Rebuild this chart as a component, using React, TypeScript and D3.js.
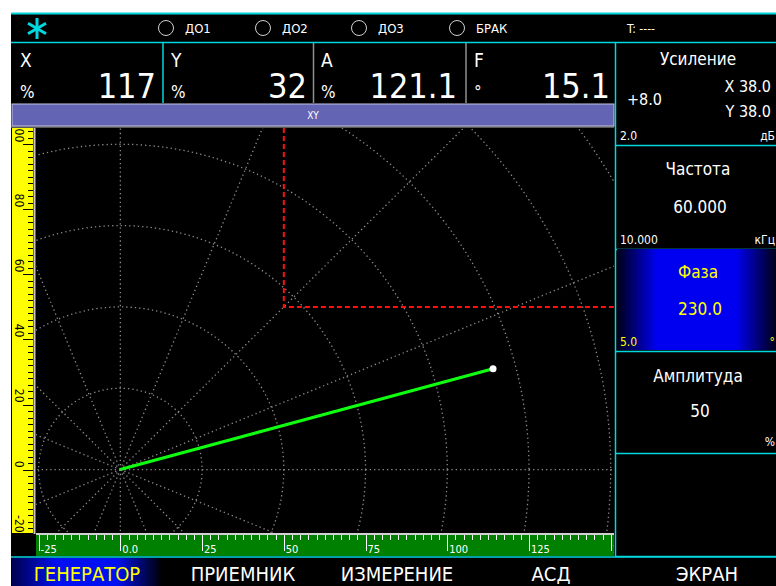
import React from "react";
import * as d3 from "d3";

// ---- data ----
const X_TICKS = [-25, 0, 25, 50, 75, 100, 125, 150];
const Y_TICKS = [-20, 0, 20, 40, 60, 80, 100];
const RING_RADII = [25, 50, 75, 100, 125, 150, 175, 200];
const SPOKE_ANGLES = [0, 22.5, 45, 67.5, 90, 112.5, 135, 157.5, 180, 202.5, 225, 247.5, 270, 292.5, 315, 337.5];
const SIGNAL_POINT = {x: 114, y: 31};
const ALARM_ZONE = {x0: 50, y0: 50};

const STATUS_FLAGS = ["ДО1", "ДО2", "ДО3", "БРАК"];
const READOUT_LABELS = ["X", "Y", "A", "F"];
const READOUT_UNITS = ["%", "%", "%", "°"];
const READOUT_VALUES = ["117", "32", "121.1", "15.1"];

const PANEL_TITLES = ["Усиление", "Частота", "Фаза", "Амплитуда", ""];
const PANEL_VALUES = ["+8.0", "60.000", "230.0", "50", ""];
const PANEL_STEPS = ["2.0", "10.000", "5.0", "", ""];
const PANEL_UNITS = ["дБ", "кГц", "°", "%", ""];
const SELECTED_PANEL = 2;

const MENU_ITEMS = ["ГЕНЕРАТОР", "ПРИЕМНИК", "ИЗМЕРЕНИЕ", "АСД", "ЭКРАН"];
const SELECTED_MENU = 0;

const FONT = "'DejaVu Sans Condensed', 'DejaVu Sans', sans-serif";
const CYAN = "#00d8e0";

const PLOT = {left: 36, right: 614, top: 128, bottom: 533};

function App(): JSX.Element {
    const width = 776;
    const height = 586;

    const x = d3.scaleLinear().domain([-25.8, 151]).range([PLOT.left, PLOT.right]);
    const y = d3.scaleLinear().domain([-19.5, 105]).range([PLOT.bottom, PLOT.top]);

    const minorX = d3.range(-25, 151, 2.5);
    const minorY = d3.range(-20, 105, 2);

    const cx = x(0);
    const cy = y(0);

    const readoutX = [12, 163, 313, 466];
    const readoutW = 151;
    const panelTops = [43, 147, 249, 351, 454];
    const titleOffsets = [22, 28, 29, 31, 0];
    const panelH = 102;
    const menuCenters = [87, 243, 397, 551, 707];

    return (
        <svg width={width} height={height} style={{position: "absolute", left: 0, top: 0, background: "#fff"}}
             fontFamily={FONT}>
            <defs>
                <linearGradient id="selH" x1="0" x2="1" y1="0" y2="0">
                    <stop offset="0" stopColor="#000018"/>
                    <stop offset="0.25" stopColor="#0000f0"/>
                    <stop offset="0.75" stopColor="#0000f0"/>
                    <stop offset="1" stopColor="#000018"/>
                </linearGradient>
                <linearGradient id="selMenu" x1="0" x2="1" y1="0" y2="0">
                    <stop offset="0" stopColor="#000050"/>
                    <stop offset="0.3" stopColor="#0010f0"/>
                    <stop offset="0.7" stopColor="#0010f0"/>
                    <stop offset="1" stopColor="#000000"/>
                </linearGradient>
                <clipPath id="plotClip">
                    <rect x={PLOT.left} y={PLOT.top} width={PLOT.right - PLOT.left} height={PLOT.bottom - PLOT.top}/>
                </clipPath>
                <clipPath id="rulerClip">
                    <rect x={12} y={PLOT.top} width={21} height={PLOT.bottom - PLOT.top}/>
                </clipPath>
                <clipPath id="xAxisClip">
                    <rect x={PLOT.left} y={535} width={PLOT.right - PLOT.left} height={22}/>
                </clipPath>
            </defs>

            {/* device background */}
            <rect x={11} y={13} width={width - 11} height={height - 13} fill="#000"/>

            {/* top status bar */}
            <line x1={11} x2={width} y1={13.5} y2={13.5} stroke={CYAN} strokeWidth={2}/>
            <line x1={11} x2={width} y1={42.5} y2={42.5} stroke={CYAN} strokeWidth={1.5}/>
            <g stroke={CYAN} strokeWidth={3} strokeLinecap="butt">
                <line x1={37} x2={37} y1={18} y2={39}/>
                <line x1={28} x2={46} y1={23.3} y2={33.7}/>
                <line x1={28} x2={46} y1={33.7} y2={23.3}/>
            </g>
            {STATUS_FLAGS.map((flag, i) => {
                const fx = [166, 263, 359, 457][i];
                return (
                    <g key={flag}>
                        <circle cx={fx} cy={28} r={7.5} fill="none" stroke="#d0d0d0" strokeWidth={1}/>
                        <text x={fx + 19} y={33} fill="#fff" fontSize={13}>{flag}</text>
                    </g>
                );
            })}
            <text x={627} y={33} fill="#fff" fontSize={12}>T: ----</text>

            {/* readouts */}
            {READOUT_LABELS.map((label, i) => (
                <g key={label}>
                    <text x={readoutX[i] + 8} y={67} fill="#fff" fontSize={19}>{label}</text>
                    <text x={readoutX[i] + 8} y={98} fill="#fff" fontSize={17}>{READOUT_UNITS[i]}</text>
                    <text x={readoutX[i] + readoutW - 7} y={98} fill="#fff" fontSize={34}
                          textAnchor="end">{READOUT_VALUES[i]}</text>
                </g>
            ))}
            <line x1={163} x2={163} y1={43} y2={103} stroke={CYAN} strokeWidth={1.5}/>
            <line x1={313.5} x2={313.5} y1={43} y2={103} stroke="#909090" strokeWidth={1.5}/>
            <line x1={466} x2={466} y1={43} y2={103} stroke="#909090" strokeWidth={1.5}/>

            {/* XY title bar */}
            <rect x={12} y={104} width={602} height={22} fill="#6464b4" stroke="#c4c4e4" strokeWidth={1}/>
            <text x={313} y={119} fill="#fff" fontSize={10} textAnchor="middle">XY</text>
            <line x1={11} x2={614} y1={127} y2={127} stroke="#b0b0b0" strokeWidth={1}/>

            {/* plot grid */}
            <g clipPath="url(#plotClip)">
                <rect x={PLOT.left} y={PLOT.top} width={PLOT.right - PLOT.left} height={PLOT.bottom - PLOT.top}
                      fill="#000"/>
                <g fill="none" stroke="#8c8c8c" strokeWidth={1.3} strokeDasharray="1.3 3">
                    {RING_RADII.map(r => (
                        <ellipse key={r} cx={cx} cy={cy} rx={x(r) - cx} ry={cy - y(r)}/>
                    ))}
                    {SPOKE_ANGLES.map(a => {
                        const rad = (a * Math.PI) / 180;
                        return (
                            <line key={a} x1={cx} y1={cy}
                                  x2={x(260 * Math.cos(rad))} y2={y(260 * Math.sin(rad))}/>
                        );
                    })}
                </g>
                <path
                    d={`M${x(ALARM_ZONE.x0)},${PLOT.top} L${x(ALARM_ZONE.x0)},${y(ALARM_ZONE.y0)} L${PLOT.right},${y(ALARM_ZONE.y0)}`}
                    fill="none" stroke="#ff1010" strokeWidth={2} strokeDasharray="5 3"/>
                <line x1={cx} y1={cy} x2={x(SIGNAL_POINT.x)} y2={y(SIGNAL_POINT.y)}
                      stroke="#10ff10" strokeWidth={3}/>
                <circle cx={x(SIGNAL_POINT.x)} cy={y(SIGNAL_POINT.y)} r={3.5} fill="#fff"/>
            </g>

            {/* y axis (yellow ruler) */}
            <rect x={12} y={PLOT.top} width={21} height={PLOT.bottom - PLOT.top} fill="#ffff00"/>
            <line x1={34.5} x2={34.5} y1={PLOT.top} y2={534} stroke="#c8c8c8" strokeWidth={2}/>
            <g stroke="#000" strokeWidth={1}>
                {minorY.map(v => (
                    <line key={v} x1={33} x2={Y_TICKS.includes(v) ? 23 : 28} y1={Math.round(y(v)) + 0.5}
                          y2={Math.round(y(v)) + 0.5}/>
                ))}
            </g>
            <g clipPath="url(#rulerClip)">
                {Y_TICKS.map(v => (
                    <text key={v} transform={`translate(15, ${y(v) - 2}) rotate(90)`} textAnchor="end"
                          fill="#000" fontSize={12}>{v}</text>
                ))}
            </g>

            {/* x axis (green ruler) */}
            <line x1={PLOT.left} x2={PLOT.right} y1={534} y2={534} stroke="#d0d0d0" strokeWidth={2}/>
            <rect x={PLOT.left} y={535} width={PLOT.right - PLOT.left} height={21} fill="#008000"/>
            <g clipPath="url(#xAxisClip)">
                <g stroke="#fff" strokeWidth={1}>
                    {minorX.map(v => (
                        <line key={v} x1={Math.round(x(v)) + 0.5} x2={Math.round(x(v)) + 0.5} y1={535}
                              y2={X_TICKS.includes(v) ? 551 : 540}/>
                    ))}
                </g>
                {X_TICKS.map(v => (
                    <text key={v} x={x(v) + 2} y={553} fill="#fff" fontSize={11}>
                        {v === 0 ? "0.0" : String(v)}
                    </text>
                ))}
            </g>

            {/* right parameter panels */}
            {PANEL_TITLES.map((title, i) => {
                const top = panelTops[i];
                const selected = i === SELECTED_PANEL;
                const color = selected ? "#ffff00" : "#fff";
                return (
                    <g key={i}>
                        {selected && <rect x={617} y={top} width={159} height={panelH - 1} fill="url(#selH)"/>}
                        <text x={698} y={top + titleOffsets[i]} fill={color} fontSize={17}
                              textAnchor="middle">{title}</text>
                        {i === 0 ? (
                            <g>
                                <text x={627} y={top + 62} fill="#fff" fontSize={16}>{PANEL_VALUES[i]}</text>
                                <text x={771} y={top + 49} fill="#fff" fontSize={16} textAnchor="end">X 38.0</text>
                                <text x={771} y={top + 74} fill="#fff" fontSize={16} textAnchor="end">Y 38.0</text>
                            </g>
                        ) : (
                            <text x={700} y={top + 66} fill={color} fontSize={17}
                                  textAnchor="middle">{PANEL_VALUES[i]}</text>
                        )}
                        <text x={620} y={top + 97} fill={color} fontSize={12}>{PANEL_STEPS[i]}</text>
                        <text x={775} y={top + (i === 3 ? 95 : 97)} fill={color}
                              fontSize={12} textAnchor="end">{PANEL_UNITS[i]}</text>
                        <line x1={616} x2={width} y1={top + panelH + 0.5} y2={top + panelH + 0.5}
                              stroke={CYAN} strokeWidth={1.5}/>
                    </g>
                );
            })}
            <line x1={615.5} x2={615.5} y1={43} y2={557} stroke={CYAN} strokeWidth={1.5}/>
            <line x1={11} x2={width} y1={557} y2={557} stroke={CYAN} strokeWidth={1.5}/>

            {/* bottom menu */}
            <rect x={12} y={558} width={150} height={28} fill="url(#selMenu)"/>
            {MENU_ITEMS.map((item, i) => (
                <text key={item} x={menuCenters[i]} y={581} fontSize={20} textAnchor="middle"
                      fill={i === SELECTED_MENU ? "#ffff00" : "#fff"}>{item}</text>
            ))}
        </svg>
    );
}

export default App;
